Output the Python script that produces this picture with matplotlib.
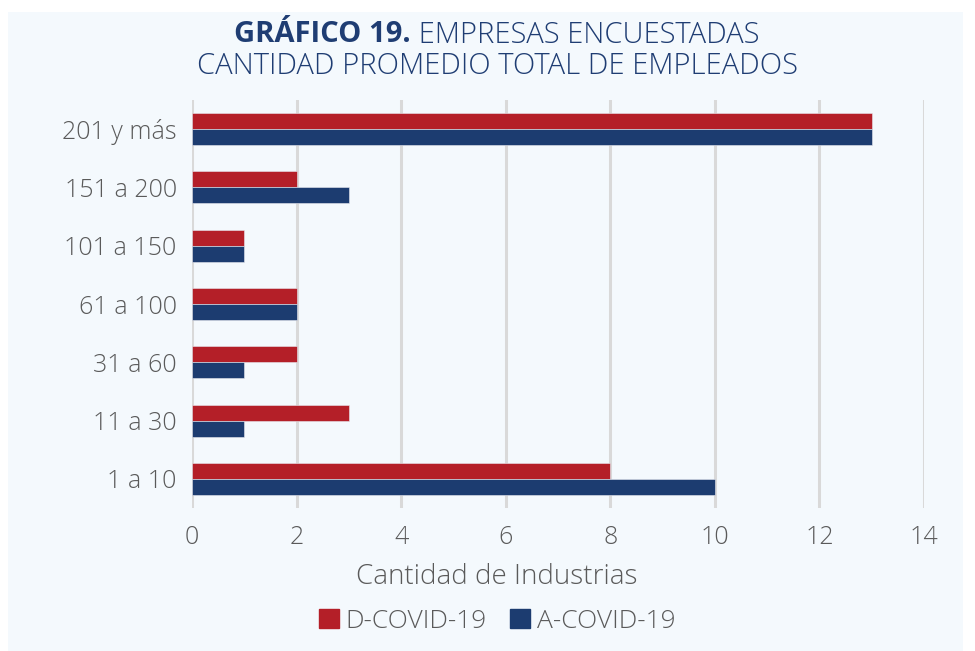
import matplotlib.pyplot as plt
from matplotlib.patches import Patch
import numpy as np

categories = ["1 a 10", "11 a 30", "31 a 60", "61 a 100", "101 a 150", "151 a 200", "201 y más"]
d_covid = [8, 3, 2, 2, 1, 2, 13]
a_covid = [10, 1, 1, 2, 1, 3, 13]
x_ticks = [0, 2, 4, 6, 8, 10, 12, 14]

RED = "#b41f28"
BLUE = "#1c3c70"
TEXT = "#5a5a5a"
TITLE = "#1f3d73"
PANEL = "#f4f9fd"

plt.rcParams["font.family"] = ["Open Sans", "DejaVu Sans"]
plt.rcParams["font.weight"] = "light"

fig = plt.figure(figsize=(9.75, 6.51), dpi=100)
fig.patch.set_facecolor("white")

# light panel behind the whole chart
bg = fig.add_axes([8 / 975, 0, 955 / 975, 1 - 12 / 651], zorder=-1)
bg.set_facecolor(PANEL)
bg.set_xticks([])
bg.set_yticks([])
for s in bg.spines.values():
    s.set_visible(False)

ax = fig.add_axes([192 / 975, 1 - 508 / 651, (924 - 192) / 975, 408 / 651])
ax.set_facecolor("none")

y = np.arange(len(categories))
h = 0.275
ax.barh(y + h / 2, d_covid, height=h, color=RED, label="D-COVID-19", zorder=3,
        edgecolor="#e8e8ee", linewidth=0.4)
ax.barh(y - h / 2, a_covid, height=h, color=BLUE, label="A-COVID-19", zorder=3,
        edgecolor="#e8e8ee", linewidth=0.4)

ax.set_xlim(0, 14)
ax.set_ylim(-0.5, 6.5)
ax.set_xticks(x_ticks)
ax.set_yticks(y)
ax.set_yticklabels(categories)
ax.grid(axis="x", color="#d9d9d9", linewidth=2.2, zorder=0)
for s in ax.spines.values():
    s.set_visible(False)
ax.tick_params(axis="both", length=0, labelsize=18, colors=TEXT)
ax.tick_params(axis="x", pad=12)
ax.tick_params(axis="y", pad=11)

fig.text(497 / 975, 1 - 577 / 651, "Cantidad de Industrias", ha="center",
         va="center", fontsize=20, color=TEXT)

# title: bold prefix + regular rest, centred together
t1 = fig.text(0, 1 - 35 / 651, "GRÁFICO 19.", ha="left", va="center",
              fontsize=21, fontweight="bold", color=TITLE)
t2 = fig.text(0, 1 - 35 / 651, " EMPRESAS ENCUESTADAS", ha="left", va="center",
              fontsize=21, color=TITLE)
r = fig.canvas.get_renderer()
w1 = t1.get_window_extent(r).width / fig.bbox.width
w2 = t2.get_window_extent(r).width / fig.bbox.width
x0 = 497 / 975 - (w1 + w2) / 2
t1.set_x(x0)
t2.set_x(x0 + w1)
fig.text(497 / 975, 1 - 66 / 651, "CANTIDAD PROMEDIO TOTAL DE EMPLEADOS", ha="center",
         va="center", fontsize=21, color=TITLE)

handles = [Patch(color=RED), Patch(color=BLUE)]
fig.legend(handles, ["D-COVID-19", "A-COVID-19"], loc="center",
           bbox_to_anchor=(497 / 975, 1 - 621 / 651), ncol=2, frameon=False,
           fontsize=19, labelcolor=TEXT, handlelength=0.75, handleheight=0.75,
           handletextpad=0.25, columnspacing=0.9)

fig.savefig("out.png", dpi=100, facecolor=fig.get_facecolor())
